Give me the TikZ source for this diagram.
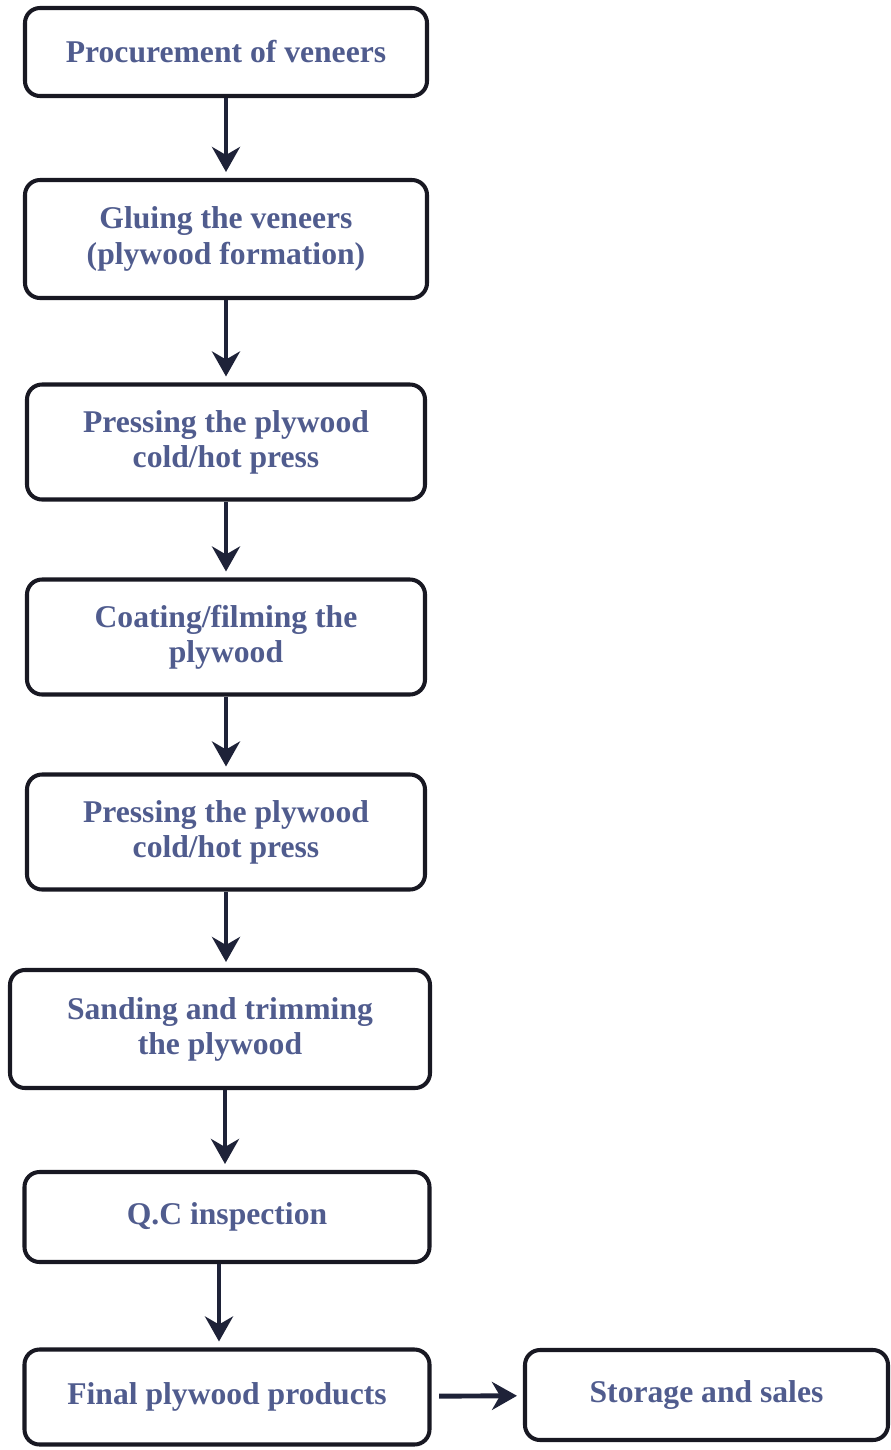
\documentclass[tikz,border=0pt]{standalone}
\usepackage{fontspec}
\setmainfont{Liberation Serif}
\usetikzlibrary{arrows.meta, positioning}
\definecolor{txtblue}{RGB}{80,92,142}
\definecolor{boxline}{RGB}{24,24,34}
\definecolor{arrowc}{RGB}{30,34,56}
\tikzset{>={Stealth[length=0.5cm, width=0.56cm, inset=0.16cm]}}
\tikzset{stage/.style={draw=boxline, line width=2.3pt, rounded corners=0.3cm, fill=white,
  text=txtblue, font=\bfseries\fontsize{18}{20}\selectfont, align=center, inner sep=0pt}}
\tikzset{flow/.style={->, line width=2.8pt, color=arrowc, shorten >=0.12cm}}

\begin{document}
\begin{tikzpicture}
\useasboundingbox (0,0) rectangle (17.82,-29);
\node[stage, minimum width=8.04cm, minimum height=1.76cm] (A) at (4.52,-1.04) {Procurement of veneers};
\node[stage, minimum width=8.04cm, minimum height=2.36cm] (A1) at (4.52,-4.78) {Gluing the veneers\\(plywood formation)};
\node[stage, minimum width=7.96cm, minimum height=2.3cm] (A2) at (4.52,-8.84) {Pressing the plywood\\cold/hot press};
\node[stage, minimum width=7.96cm, minimum height=2.3cm] (A3) at (4.52,-12.74) {Coating/filming the\\plywood};
\node[stage, minimum width=7.96cm, minimum height=2.3cm] (A4) at (4.52,-16.64) {Pressing the plywood\\cold/hot press};
\node[stage, minimum width=8.4cm, minimum height=2.36cm] (A5) at (4.40,-20.58) {Sanding and trimming\\the plywood};
\node[stage, minimum width=8.1cm, minimum height=1.8cm] (A6) at (4.54,-24.34) {Q.C inspection};
\node[stage, minimum width=8.1cm, minimum height=1.9cm] (A7) at (4.54,-27.94) {Final plywood products};
\node[stage, minimum width=7.26cm, minimum height=1.8cm] (B) at (14.13,-27.90) {Storage and sales};
\draw[flow](A)--(A1);
\draw[flow](A1)--(A2);
\draw[flow](A2)--(A3);
\draw[flow](A3)--(A4);
\draw[flow](A4.south)--(A4.south|-A5.north);
\draw[flow]([xshift=0.1cm]A5.south)--([xshift=0.1cm]A5.south|-A6.north);
\draw[flow]([xshift=-0.16cm]A6.south)--([xshift=-0.16cm]A6.south|-A7.north);
\draw[flow, shorten <=0.15cm](A7)--(B);
\end{tikzpicture}
\end{document}
